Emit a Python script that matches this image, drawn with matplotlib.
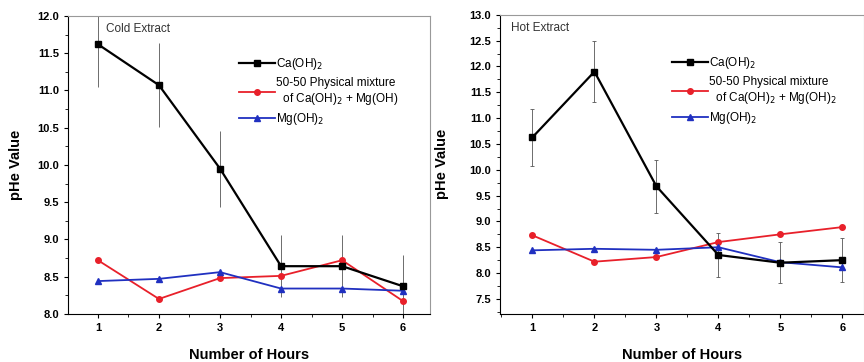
import numpy as np
import matplotlib.pyplot as plt
from matplotlib.ticker import MultipleLocator

plt.rcParams['font.family'] = ['Liberation Sans', 'DejaVu Sans']

hours = [1, 2, 3, 4, 5, 6]

# cold extract
cold_ca = [11.62, 11.07, 9.95, 8.64, 8.64, 8.37]
cold_ca_err = [0.58, 0.56, 0.51, 0.42, 0.42, 0.42]
cold_mix = [8.72, 8.20, 8.48, 8.51, 8.72, 8.17]
cold_mg = [8.44, 8.47, 8.56, 8.34, 8.34, 8.31]

# hot extract
hot_ca = [10.63, 11.90, 9.68, 8.35, 8.20, 8.25]
hot_ca_err = [0.55, 0.59, 0.51, 0.43, 0.40, 0.42]
hot_mix = [8.73, 8.22, 8.31, 8.60, 8.75, 8.89]
hot_mg = [8.44, 8.47, 8.45, 8.50, 8.21, 8.11]

fig = plt.figure(figsize=(8.64, 3.62), dpi=100)
ax1 = fig.add_axes([0.0787, 0.133, 0.419, 0.823])
ax2 = fig.add_axes([0.579, 0.133, 0.421, 0.826])


def panel(ax, ca, ca_err, mix, mg, title, title_x, mix_label, caps):
    ax.errorbar(hours, ca, yerr=ca_err, fmt='none', ecolor='#555555',
                elinewidth=0.6, capsize=caps, capthick=0.6, zorder=1)
    ax.plot(hours, ca, color='black', marker='s', ms=4, lw=1.6,
            label='Ca(OH)$_2$', zorder=3)
    ax.plot(hours, mix, color='#e8202a', marker='o', ms=4, lw=1.3,
            label=mix_label, zorder=2)
    ax.plot(hours, mg, color='#2030c0', marker='^', ms=4, lw=1.3,
            label='Mg(OH)$_2$', zorder=2)
    ax.text(title_x, 0.975, title, transform=ax.transAxes, fontsize=8.5,
            va='top', ha='left', color='#333333')
    ax.set_xticks(hours)
    ax.xaxis.set_minor_locator(MultipleLocator(0.5))
    ax.yaxis.set_major_locator(MultipleLocator(0.5))
    ax.yaxis.set_minor_locator(MultipleLocator(0.25))
    ax.tick_params(direction='out', labelsize=8, length=3, width=0.8)
    ax.tick_params(which='minor', direction='out', length=2, width=0.6)
    for lab in ax.get_xticklabels() + ax.get_yticklabels():
        lab.set_fontweight('bold')
    for s in ['top', 'right']:
        ax.spines[s].set_color('#999999')
    ax.set_xlabel('Number of Hours', fontsize=10.5, fontweight='bold', labelpad=11)
    ax.set_ylabel('pHe Value', fontsize=10.5, fontweight='bold')
    ax.legend(loc='upper left', bbox_to_anchor=(0.46, 0.88), frameon=False,
              fontsize=8.5, handlelength=3.0, handletextpad=0.1,
              labelspacing=0.35, borderaxespad=0)


panel(ax1, cold_ca, cold_ca_err, cold_mix, cold_mg, 'Cold Extract', 0.105,
      '50-50 Physical mixture\n  of Ca(OH)$_2$ + Mg(OH)', 0)
ax1.set_xlim(0.51, 6.44)
ax1.set_ylim(8.0, 12.0)
ax1.yaxis.set_label_coords(-0.125, 0.5)

panel(ax2, hot_ca, hot_ca_err, hot_mix, hot_mg, 'Hot Extract', 0.03,
      '50-50 Physical mixture\n  of Ca(OH)$_2$ + Mg(OH)$_2$', 1.5)
ax2.set_xlim(0.48, 6.35)
ax2.set_ylim(7.21, 13.0)
ax2.yaxis.set_label_coords(-0.14, 0.5)

fig.savefig('out.png', dpi=100)
